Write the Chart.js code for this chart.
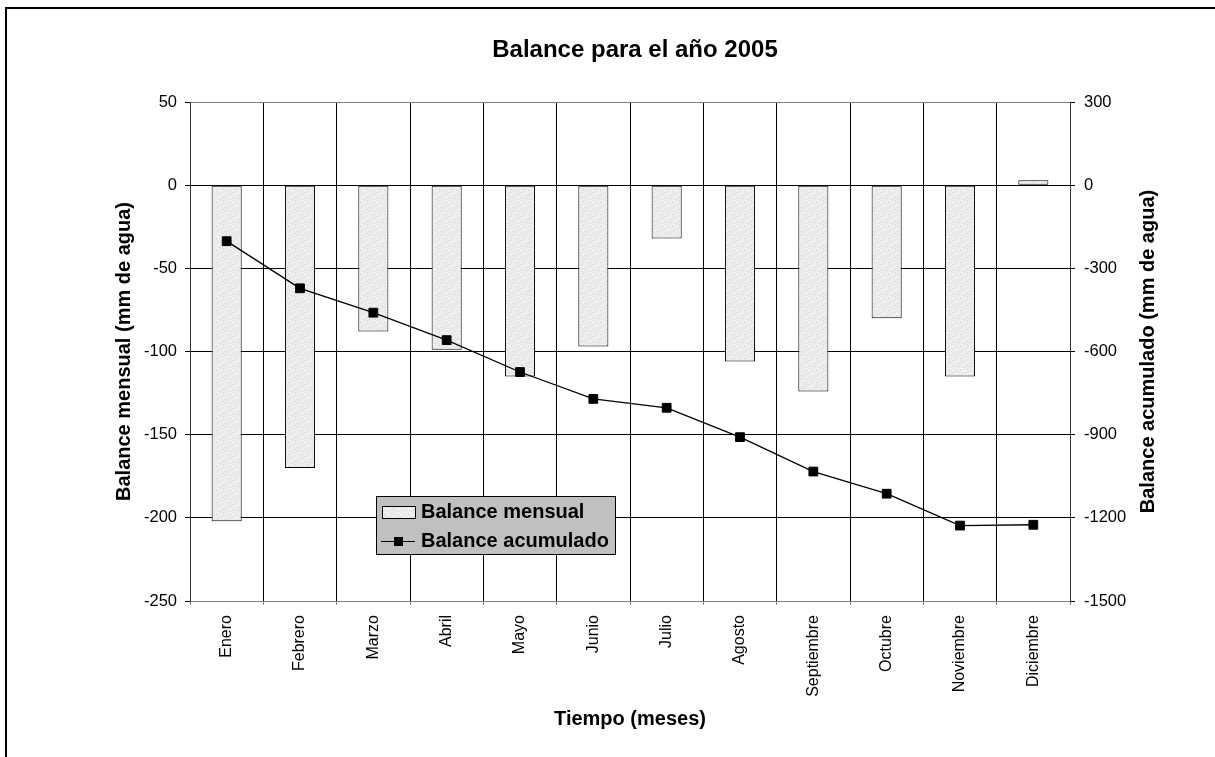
<!DOCTYPE html>
<html><head><meta charset="utf-8">
<script src="https://cdn.jsdelivr.net/npm/chart.js@4.4.1/dist/chart.umd.min.js"></script>
<style>
html,body{margin:0;padding:0;background:#fff;overflow:hidden}
#wrap{position:relative;width:1215px;height:757px}
#frame{position:absolute;left:5px;top:7px;width:1230px;height:770px;border-left:2px solid #000;border-top:2px solid #000;pointer-events:none}
</style></head><body>
<div id="wrap"><canvas id="c" width="1215" height="757"></canvas><div id="frame"></div></div>
<script>
const months = ["Enero","Febrero","Marzo","Abril","Mayo","Junio","Julio","Agosto","Septiembre","Octubre","Noviembre","Diciembre"];
const balanceMensual = [-202,-170,-88,-99,-115,-97,-32,-106,-124,-80,-115,3];
const balanceAcumulado = [-202,-372,-460,-559,-674,-771,-803,-909,-1033,-1113,-1228,-1225];
const leftTicks = [50,0,-50,-100,-150,-200,-250];
const rightTicks = [300,0,-300,-600,-900,-1200,-1500];
const titleText = "Balance para el año 2005";
const leftTitle = "Balance mensual (mm de agua)";
const rightTitle = "Balance acumulado (mm de agua)";
const xTitle = "Tiempo (meses)";
const seriesNames = ["Balance mensual","Balance acumulado"];

const FONT = "'Liberation Sans', Arial, Helvetica, sans-serif";
Chart.defaults.font.family = FONT;
Chart.defaults.color = '#000';

// speckled light-gray fill like the original
function makePattern(){
  const p = document.createElement('canvas');
  p.width = 12; p.height = 12;
  const g = p.getContext('2d');
  g.fillStyle = '#ebebeb'; g.fillRect(0,0,12,12);
  const dark = [[1,2],[5,0],[9,3],[3,7],[7,9],[10,6],[0,10],[6,5]];
  const light = [[2,5],[8,1],[4,10],[11,9],[6,2],[1,8]];
  g.fillStyle = '#d6d6d6'; dark.forEach(([x,y])=>g.fillRect(x,y,1,1));
  g.fillStyle = '#f9f9f9'; light.forEach(([x,y])=>g.fillRect(x,y,2,1));
  return g.createPattern(p,'repeat');
}
const ctx = document.getElementById('c').getContext('2d');
const barFill = makePattern();

const legendPlugin = {
  id: 'boxLegend',
  afterDatasetsDraw(chart){
    const a = chart.chartArea, c = chart.ctx;
    const x = a.left + 186, y = a.top + 394, w = 239, h = 58;
    c.save();
    c.fillStyle = '#c0c0c0'; c.fillRect(x,y,w,h);
    c.strokeStyle = '#000'; c.lineWidth = 1; c.strokeRect(x+0.5,y+0.5,w,h);
    // bar symbol
    c.fillStyle = barFill; c.fillRect(x+6,y+10,33,12);
    c.strokeRect(x+6.5,y+10.5,33,12);
    // line symbol
    c.beginPath(); c.moveTo(x+5,y+45.5); c.lineTo(x+39,y+45.5); c.stroke();
    c.fillStyle = '#000'; c.fillRect(x+18,y+41,9,9);
    c.font = "bold 20px " + FONT; c.textBaseline = 'middle'; c.textAlign='left';
    c.fillText(seriesNames[0], x+45, y+16);
    c.fillText(seriesNames[1], x+45, y+45);
    c.restore();
  }
};

// right axis title reads bottom-to-top like the left one
const rightTitlePlugin = {
  id: 'rightTitle',
  afterDraw(chart){
    const s = chart.scales.y2, c = chart.ctx;
    c.save();
    c.translate(s.right - 22, (chart.chartArea.top + chart.chartArea.bottom)/2);
    c.rotate(-Math.PI/2);
    c.font = "bold 20px " + FONT; c.fillStyle = '#000';
    c.textAlign = 'center'; c.textBaseline = 'middle';
    c.fillText(rightTitle, 0, 0);
    c.restore();
  }
};

new Chart(ctx, {
  data: {
    labels: months,
    datasets: [
      { type:'line', label: seriesNames[1], data: balanceAcumulado, yAxisID:'y2', order:0,
        borderColor:'#000', borderWidth:1.3, backgroundColor:'#000',
        pointStyle:'rect', pointRadius:6.2, pointBorderWidth:1, pointBackgroundColor:'#000', pointBorderColor:'#000',
        tension:0 },
      { type:'bar', label: seriesNames[0], data: balanceMensual, yAxisID:'y', order:1,
        backgroundColor: barFill, borderColor:'#000', borderWidth:1, borderSkipped:false,
        categoryPercentage:1, barPercentage:0.41 }
    ]
  },
  options: {
    responsive:false, animation:false, devicePixelRatio:1,
    layout:{ padding:{ left:100, right:45, top:10, bottom:20 } },
    plugins:{
      legend:{ display:false }, tooltip:{ enabled:false },
      title:{ display:true, text:titleText, color:'#000', font:{ size:24, weight:'bold' }, padding:{ top:25.6, bottom:37.6 } }
    },
    scales:{
      x:{
        offset:true,
        grid:{ offset:true, color:'#000', tickColor:'#808080', tickLength:4, lineWidth:1 },
        border:{ color:'#808080', width:1 },
        ticks:{ minRotation:90, maxRotation:90, autoSkip:false, padding:10, font:{ size:16 }, color:'#000' },
        title:{ display:true, text:xTitle, font:{ size:20, weight:'bold' }, padding:6, color:'#000' },
        afterFit(s){ s.height = 757 - 20 - 601; }
      },
      y:{
        position:'left', min:-250, max:50,
        afterBuildTicks(s){ s.ticks = leftTicks.map(v=>({value:v})); },
        grid:{ color:(c)=> (c.tick && (c.tick.value===50 || c.tick.value===-250)) ? '#808080' : '#000', tickColor:'#000', tickLength:5, lineWidth:1 },
        border:{ color:'#333', width:1 },
        ticks:{ padding:8, font:{ size:16.5 }, color:'#000', callback:(v)=>String(v) },
        title:{ display:true, text:leftTitle, font:{ size:20, weight:'bold' }, padding:12, color:'#000' },
        afterFit(s){ s.width = 90; }
      },
      y2:{
        position:'right', min:-1500, max:300,
        afterBuildTicks(s){ s.ticks = rightTicks.map(v=>({value:v})); },
        grid:{ drawOnChartArea:false, color:'#000', tickLength:5 },
        border:{ color:'#333', width:1 },
        ticks:{ padding:9, font:{ size:16.5 }, color:'#000', callback:(v)=>String(v) },
        title:{ display:false },
        afterFit(s){ s.width = 100; }
      }
    }
  },
  plugins:[legendPlugin, rightTitlePlugin]
});
</script>
</body></html>
